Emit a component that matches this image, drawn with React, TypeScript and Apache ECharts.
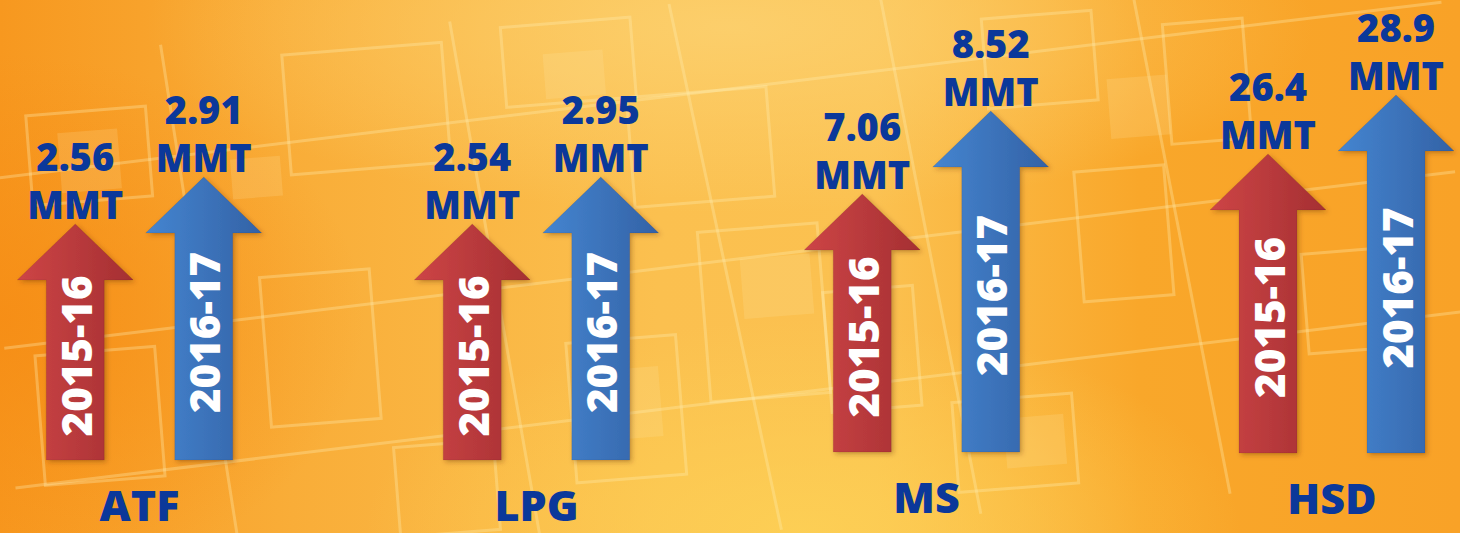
import React, { useEffect, useRef } from "react";
import * as echarts from "echarts";

// ---- data ----
const categories = ["ATF", "LPG", "MS", "HSD"];
const years = ["2015-16", "2016-17"];
const values2015 = [2.56, 2.54, 7.06, 26.4];
const values2016 = [2.91, 2.95, 8.52, 28.9];
const unit = "MMT";

// ---- layout (per-product panels, each with its own value scale) ----
const panelLeft = [11, 408, 798, 1204];
const panelWidth = 257;
const panelTop = [177, 177, 111, 95];
const panelBottom = [73, 73, 81, 80];
const axisMin = [0.8, 0.48, 2.52, 13.7];
const axisMax = [2.91, 2.95, 8.52, 28.9];

const FONT = '"Open Sans", "Noto Sans", sans-serif';
const LABEL_BLUE = "#0b389a";

const arrowFills = [
  new echarts.graphic.LinearGradient(0, 0, 1, 0, [
    { offset: 0, color: "#cd4546" },
    { offset: 1, color: "#a52f32" },
  ]),
  new echarts.graphic.LinearGradient(0, 0, 1, 0, [
    { offset: 0, color: "#4585d0" },
    { offset: 1, color: "#3362a6" },
  ]),
];

const HEAD_HALF = 58;
const SHAFT_HALF = 29;
const HEAD_H = 56;

function renderArrow(params: any, api: any) {
  const idx = api.value(0);
  const val = api.value(1);
  const [cx, tip] = api.coord([idx, val]);
  const cs = params.coordSys;
  const base = cs.y + cs.height;
  const sh = tip + HEAD_H;
  const points = [
    [cx, tip],
    [cx + HEAD_HALF, sh],
    [cx + SHAFT_HALF, sh],
    [cx + SHAFT_HALF, base],
    [cx - SHAFT_HALF, base],
    [cx - SHAFT_HALF, sh],
    [cx - HEAD_HALF, sh],
  ];
  return {
    type: "group",
    children: [
      {
        type: "polygon",
        shape: { points },
        style: {
          fill: arrowFills[idx],
          stroke: "rgba(0,0,0,0.08)",
          lineWidth: 1,
          shadowBlur: 5,
          shadowOffsetX: 2,
          shadowOffsetY: 2,
          shadowColor: "rgba(90,40,0,0.35)",
        },
      },
      {
        type: "text",
        x: cx,
        y: (tip + base) / 2 + 14,
        rotation: Math.PI / 2,
        style: {
          text: years[idx],
          fill: "#ffffff",
          fontSize: 42,
          fontWeight: 800,
          fontFamily: FONT,
          align: "center",
          verticalAlign: "middle",
        },
      },
      {
        type: "text",
        x: cx,
        y: tip + 4,
        style: {
          text: String(val) + "\n" + unit,
          fill: LABEL_BLUE,
          fontSize: 38,
          fontWeight: 800,
          fontFamily: FONT,
          lineHeight: 48,
          align: "center",
          verticalAlign: "bottom",
        },
      },
    ],
  };
}

// decorative circuit-board pattern (background texture only)
const LINE = "rgba(255,238,180,0.32)";
const FILLP = "rgba(255,232,170,0.18)";
function circuit() {
  const rects: any[] = [
    [40, 60, 120, 90], [300, 20, 160, 120], [520, 10, 130, 80], [640, 90, 140, 110],
    [700, 230, 120, 170], [820, 300, 90, 120], [560, 330, 110, 140], [260, 240, 110, 150],
    [30, 300, 120, 130], [1000, 40, 110, 90], [1080, 200, 90, 130], [1180, 60, 80, 120],
    [940, 420, 120, 90], [380, 420, 100, 90], [1300, 300, 90, 100],
  ];
  const fills: any[] = [
    [70, 80, 60, 60], [560, 40, 60, 45], [740, 260, 70, 60], [1120, 110, 60, 60],
    [600, 360, 50, 70], [990, 440, 60, 50], [240, 120, 50, 40],
  ];
  const lines: any[] = [
    [0, 120, 1460, 60], [0, 290, 1460, 230], [0, 430, 1460, 370],
    [180, 0, 220, 533], [470, 0, 520, 533], [690, 0, 760, 533], [900, 0, 960, 533],
    [1150, 0, 1210, 533],
  ];
  const els: any[] = [];
  rects.forEach(([x, y, w, h]) =>
    els.push({ type: "rect", z: -5, shape: { x, y, width: w, height: h }, style: { fill: "none", stroke: LINE, lineWidth: 3 } })
  );
  fills.forEach(([x, y, w, h]) =>
    els.push({ type: "rect", z: -5, shape: { x, y, width: w, height: h }, style: { fill: FILLP } })
  );
  lines.forEach(([x1, y1, x2, y2]) =>
    els.push({ type: "line", z: -5, shape: { x1, y1, x2, y2 }, style: { stroke: LINE, lineWidth: 3 } })
  );
  return { type: "group", rotation: 0.08, originX: 730, originY: 266, z: -5, children: els };
}

export default function App() {
  const ref = useRef<HTMLDivElement>(null);
  useEffect(() => {
    document.body.style.margin = "0";
    const chart = echarts.init(ref.current!, null, { renderer: "svg" });
    const grids = categories.map((_, i) => ({
      left: panelLeft[i],
      width: panelWidth,
      top: panelTop[i],
      bottom: panelBottom[i],
    }));
    const xAxes = categories.map((c, i) => ({
      type: "category",
      gridIndex: i,
      data: years,
      boundaryGap: true,
      axisLine: { show: false },
      axisTick: { show: false },
      axisLabel: { show: false },
      splitLine: { show: false },
      name: c,
      nameLocation: "middle",
      nameGap: 44,
      nameTextStyle: {
        color: LABEL_BLUE,
        fontSize: 43,
        fontWeight: 800,
        fontFamily: FONT,
        verticalAlign: "middle",
        lineHeight: 43,
      },
    }));
    const yAxes = categories.map((_, i) => ({
      type: "value",
      gridIndex: i,
      min: axisMin[i],
      max: axisMax[i],
      show: false,
      splitLine: { show: false },
    }));
    const series = categories.map((c, i) => ({
      type: "custom",
      name: c,
      xAxisIndex: i,
      yAxisIndex: i,
      renderItem: renderArrow,
      clip: false,
      data: [
        [0, values2015[i]],
        [1, values2016[i]],
      ],
    }));
    chart.setOption({
      animation: false,
      graphic: [circuit()],
      grid: grids,
      xAxis: xAxes,
      yAxis: yAxes,
      series,
    });
    return () => chart.dispose();
  }, []);
  return (
    <div
      ref={ref}
      style={{
        position: "fixed",
        left: 0,
        top: 0,
        width: 1460,
        height: 533,
        background:
          "radial-gradient(ellipse 40% 35% at 50% 5%, rgba(252,208,110,0.9), rgba(252,208,110,0) 100%)," +
          "radial-gradient(ellipse 30% 40% at 55% 100%, rgba(253,208,85,0.9), rgba(253,208,85,0) 100%)," +
          "radial-gradient(ellipse 25% 50% at 0% 60%, rgba(246,140,20,0.8), rgba(246,140,20,0) 100%)," +
          "linear-gradient(90deg, #f7981f 0%, #f9ad38 20%, #fbc04f 45%, #fbc150 60%, #f9a72a 78%, #f9a227 100%)",
      }}
    />
  );
}
